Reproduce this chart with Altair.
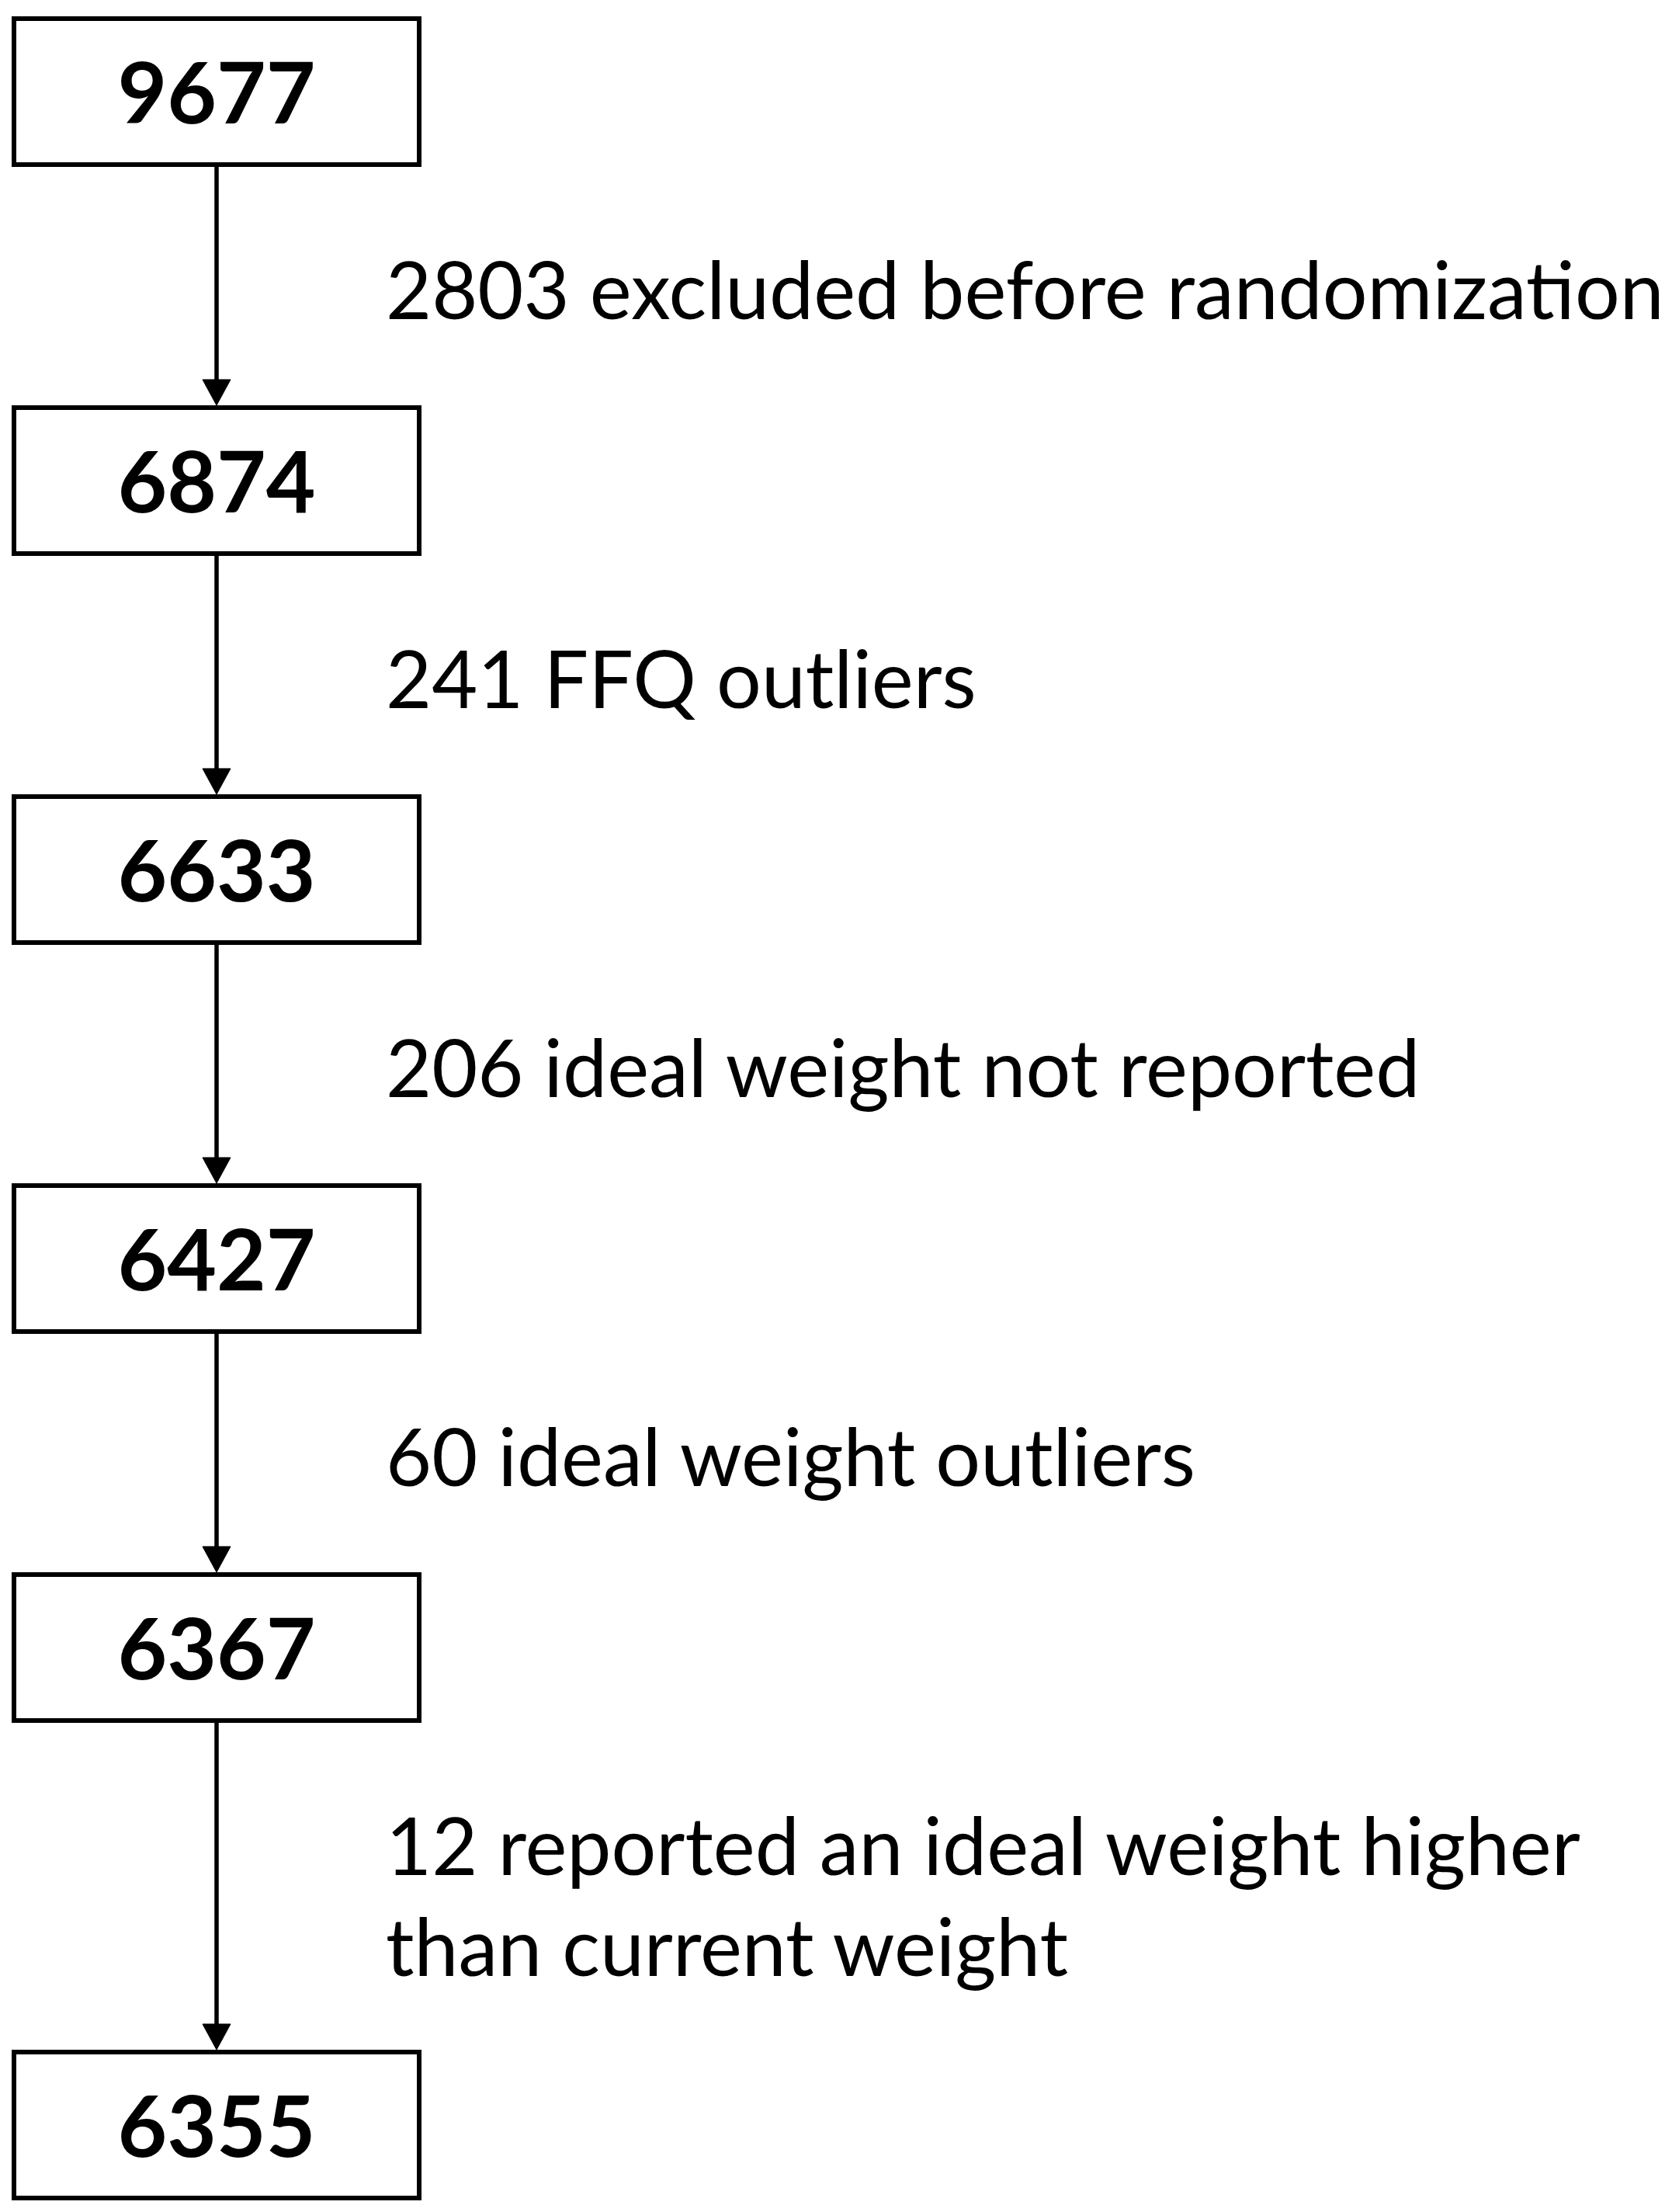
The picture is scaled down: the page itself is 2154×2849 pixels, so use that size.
import altair as alt
import pandas as pd

# ---- data -----------------------------------------------------------------
counts = [9677, 6874, 6633, 6427, 6367, 6355]
exclusion_lines = [
    ["2803 excluded before randomization"],
    ["241 FFQ outliers"],
    ["206 ideal weight not reported"],
    ["60 ideal weight outliers"],
    ["12 reported an ideal weight higher", "than current weight"],
]

# ---- layout (page pixel units) -------------------------------------------
PAGE_W, PAGE_H = 2154, 2849
MARGIN = 8
BOX_X0, BOX_X1 = 15, 543
BOX_TOP0 = 21
BOX_H = 194
STEP = 501
EXTRA_LINE_GAP = 114
BORDER = 6
NUM_BASE = 138
LABEL_X = 497
LABEL_BASE = 196
LINE_H = 130
HEAD_H = 33

box_tops = [BOX_TOP0]
for lines in exclusion_lines:
    box_tops.append(box_tops[-1] + STEP + EXTRA_LINE_GAP * (len(lines) - 1))

cx = (BOX_X0 + BOX_X1) / 2

boxes = pd.DataFrame({
    "x0": [BOX_X0 + BORDER / 2] * len(counts),
    "x1": [BOX_X1 - BORDER / 2] * len(counts),
    "y0": [t + BORDER / 2 for t in box_tops],
    "y1": [t + BOX_H - BORDER / 2 for t in box_tops],
    "num_y": [t + NUM_BASE for t in box_tops],
    "cx": [cx] * len(counts),
    "count": [str(c) for c in counts],
})

arrows = pd.DataFrame({
    "x": [cx] * len(exclusion_lines),
    "y": [box_tops[i] + BOX_H - BORDER for i in range(len(exclusion_lines))],
    "y2": [box_tops[i + 1] - HEAD_H / 2 for i in range(len(exclusion_lines))],
})

label_rows = []
for i, lines in enumerate(exclusion_lines):
    for j, line in enumerate(lines):
        label_rows.append({
            "x": LABEL_X,
            "y": box_tops[i] + BOX_H + LABEL_BASE + j * LINE_H,
            "text": line,
        })
labels = pd.DataFrame(label_rows)

W = PAGE_W - 2 * MARGIN
H = PAGE_H - 2 * MARGIN
xs = alt.Scale(domain=[MARGIN, PAGE_W - MARGIN], nice=False, zero=False)
ys = alt.Scale(domain=[MARGIN, PAGE_H - MARGIN], nice=False, zero=False, reverse=True)

rects = alt.Chart(boxes).mark_rect(fill="white", stroke="black", strokeWidth=BORDER).encode(
    x=alt.X("x0:Q", scale=xs, axis=None),
    x2="x1:Q",
    y=alt.Y("y0:Q", scale=ys, axis=None),
    y2="y1:Q",
)

numbers = alt.Chart(boxes).mark_text(
    font="Lato", fontWeight="bold", fontSize=110, align="center",
    baseline="alphabetic", color="black",
).encode(
    x=alt.X("cx:Q", scale=xs, axis=None),
    y=alt.Y("num_y:Q", scale=ys, axis=None),
    text="count:N",
)

rules = alt.Chart(arrows).mark_rule(color="black", strokeWidth=5.5).encode(
    x=alt.X("x:Q", scale=xs, axis=None),
    y=alt.Y("y:Q", scale=ys, axis=None),
    y2="y2:Q",
)

heads = alt.Chart(arrows).mark_point(
    shape="M-1,-0.92L1,-0.92L0,0.92Z", filled=True, fill="black",
    stroke="black", strokeWidth=1, size=36 * 36, opacity=1,
).encode(
    x=alt.X("x:Q", scale=xs, axis=None),
    y=alt.Y("y2:Q", scale=ys, axis=None),
)

texts = alt.Chart(labels).mark_text(
    font="Lato", fontSize=102, align="left", baseline="alphabetic", color="black",
).encode(
    x=alt.X("x:Q", scale=xs, axis=None),
    y=alt.Y("y:Q", scale=ys, axis=None),
    text="text:N",
)

chart = alt.layer(rects, rules, heads, numbers, texts).properties(
    width=W, height=H, padding=0, autosize=alt.AutoSizeParams(type="none"),
    background="white",
).configure_view(stroke=None)

chart.save("out.html", embed_options={"renderer": "svg", "actions": False})
